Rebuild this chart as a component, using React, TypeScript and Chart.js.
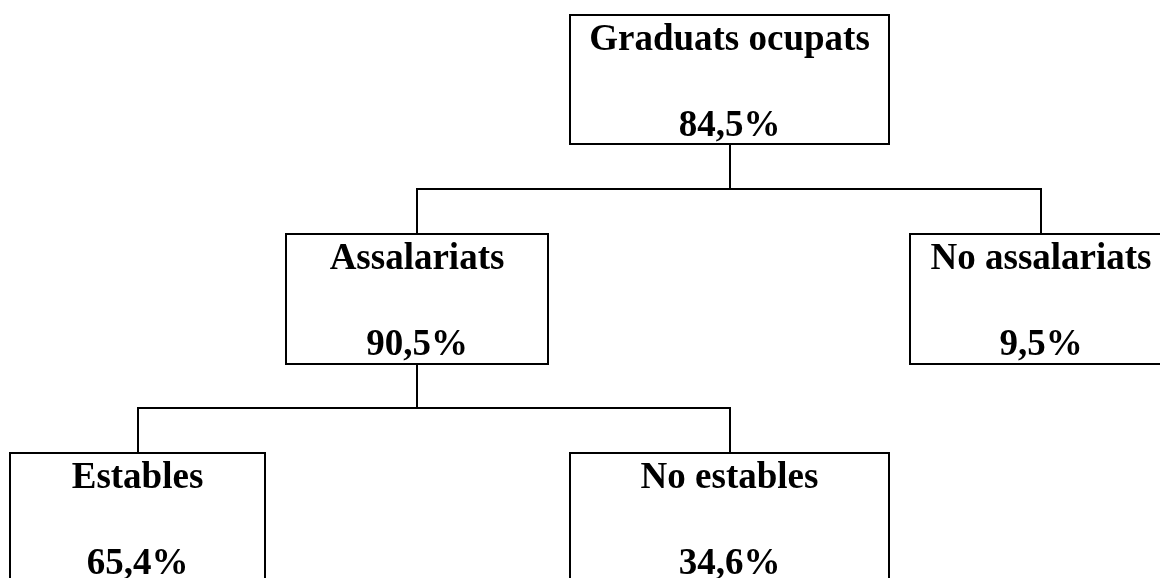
import React, { useEffect, useRef } from "react";
import { Chart, registerables } from "chart.js";

Chart.register(...registerables);

// ---- data ----
const nodeLabels = ["Graduats ocupats", "Assalariats", "No assalariats", "Estables", "No estables"];
const nodeValues = [84.5, 90.5, 9.5, 65.4, 34.6];
const nodeParents = [-1, 0, 0, 1, 1];

// ---- layout (positions in canvas units) ----
const boxLeft = [570, 286, 910, 10, 570];
const boxRight = [889, 548, 1172, 265, 889];
const boxTop = [15, 234, 234, 453, 453];
const boxBottom = [144, 364, 364, 590, 590];
const busY = [189, 408]; // indexed by parent level (root=0, Assalariats=1)
const nodeLevelBus = [0, 1, -1, -1, -1];

const W = 1160;
const H = 578;

const fmt = (v: number) => v.toFixed(1).replace(".", ",") + "%";

export default function App() {
  const ref = useRef<HTMLCanvasElement | null>(null);

  useEffect(() => {
    if (!ref.current) return;
    const datasets: any[] = [];
    const lineStyle = {
      showLine: true,
      borderColor: "#000",
      borderWidth: 2,
      pointRadius: 0,
      pointHoverRadius: 0,
      fill: false,
      tension: 0,
      borderJoinStyle: "miter",
      borderCapStyle: "square",
      clip: false,
    };
    // connectors
    nodeParents.forEach((p, i) => {
      if (p < 0) return;
      const pcx = (boxLeft[p] + boxRight[p]) / 2;
      const ccx = (boxLeft[i] + boxRight[i]) / 2;
      const by = busY[nodeLevelBus[p]];
      datasets.push({
        ...lineStyle,
        borderCapStyle: "butt",
        label: `link-${p}-${i}`,
        data: [
          { x: Math.round(pcx), y: boxBottom[p] },
          { x: Math.round(pcx), y: by },
          { x: Math.round(ccx), y: by },
          { x: Math.round(ccx), y: boxTop[i] },
        ],
      });
    });
    // boxes
    nodeLabels.forEach((lab, i) => {
      datasets.push({
        ...lineStyle,
        label: lab,
        data: [
          { x: boxLeft[i], y: boxTop[i] },
          { x: boxRight[i], y: boxTop[i] },
          { x: boxRight[i], y: boxBottom[i] },
          { x: boxLeft[i], y: boxBottom[i] },
          { x: boxLeft[i], y: boxTop[i] },
        ],
      });
    });

    const textPlugin = {
      id: "nodeText",
      afterDatasetsDraw(chart: any) {
        const ctx = chart.ctx;
        const xs = chart.scales.x;
        const ys = chart.scales.y;
        ctx.save();
        ctx.fillStyle = "#000";
        ctx.font = 'bold 37px "Liberation Serif", "Times New Roman", serif';
        ctx.textAlign = "center";
        ctx.textBaseline = "alphabetic";
        nodeLabels.forEach((lab, i) => {
          const cx = xs.getPixelForValue((boxLeft[i] + boxRight[i]) / 2);
          ctx.fillText(lab, cx, ys.getPixelForValue(boxTop[i] + 35));
          ctx.fillText(fmt(nodeValues[i]), cx, ys.getPixelForValue(boxTop[i] + 121));
        });
        ctx.restore();
      },
    };

    const chart = new Chart(ref.current, {
      type: "scatter",
      data: { datasets },
      options: {
        animation: false,
        responsive: false,
        maintainAspectRatio: false,
        layout: { padding: 0 },
        plugins: { legend: { display: false }, tooltip: { enabled: false } },
        events: [],
        scales: {
          x: { type: "linear", min: 0, max: W, display: false },
          y: { type: "linear", min: 0, max: H, reverse: true, display: false },
        },
      },
      plugins: [textPlugin],
    });
    return () => chart.destroy();
  }, []);

  return (
    <div style={{ position: "fixed", left: 0, top: 0, width: W, height: H, background: "#fff" }}>
      <canvas ref={ref} width={W} height={H} style={{ display: "block", width: W, height: H }} />
    </div>
  );
}
